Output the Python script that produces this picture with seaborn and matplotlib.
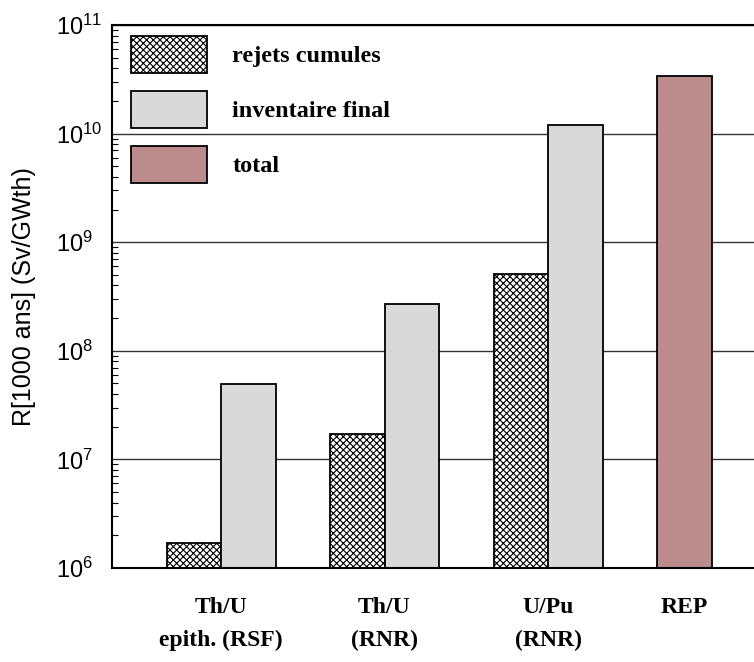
import numpy as np
import pandas as pd
import matplotlib
matplotlib.use("Agg")
import matplotlib.pyplot as plt
import seaborn as sns

# Values (Sv/GWth, log scale)
groups = ["Th/U\nepith. (RSF)", "Th/U\n(RNR)", "U/Pu\n(RNR)"]
rejets = [1.7e6, 1.7e7, 5.1e8]
inventaire = [4.9e7, 2.7e8, 1.2e10]
rep_label = "REP"
rep_total = [3.4e10]
series = ["rejets cumules", "inventaire final", "total"]
colors = ["white", "#d9d9d9", "#bc8c8c"]
decades = [1e6, 1e7, 1e8, 1e9, 1e10, 1e11]
decade_labels = [r"$\mathregular{10^{%d}}$" % k for k in range(6, 12)]

# Build a long table: each bar takes one slot, groups separated by an empty slot
rows = []
for g in range(len(groups)):
    rows.append({"pos": 3 * g + 1.5, "val": rejets[g], "serie": series[0]})
    rows.append({"pos": 3 * g + 2.5, "val": inventaire[g], "serie": series[1]})
rows.append({"pos": 3 * len(groups) + 1.5, "val": rep_total[0], "serie": series[2]})
df = pd.DataFrame(rows)

sns.set_style("white")
plt.rcParams["font.family"] = ["Liberation Sans", "DejaVu Sans"]
plt.rcParams["text.color"] = "black"
plt.rcParams["axes.labelcolor"] = "black"
plt.rcParams["xtick.color"] = "black"
plt.rcParams["ytick.color"] = "black"
plt.rcParams["hatch.linewidth"] = 0.8

fig = plt.figure(figsize=(7.54, 6.62), dpi=100)
ax = fig.add_axes([112 / 754, 94 / 662, 642 / 754, 543 / 662])
ax.set_yscale("log")

sns.barplot(data=df, x="pos", y="val", hue="serie", hue_order=series,
            palette=dict(zip(series, colors)), native_scale=True, dodge=False,
            width=1, saturation=1, edgecolor="black", linewidth=1.3,
            legend=False, ax=ax)

# cross hatch for the cumulated releases
for bar in ax.containers[0]:
    bar.set_hatch("xxxxx")

ax.set_ylim(1e6, 1e11)
ax.set_xlim(0, 642 / 54.5)

# x labels between the two bars of each group, REP under its bar
tick_pos = [3 * g + 2 for g in range(len(groups))] + [3 * len(groups) + 1.5]
ax.set_xticks(tick_pos)
ax.set_xticklabels(groups + [rep_label], fontfamily="Liberation Serif",
                   fontweight="bold", fontsize=17, linespacing=1.75)
ax.tick_params(axis="x", length=0, pad=21)
ax.set_xlabel("")

# y tick labels left aligned like the original
ax.set_yticks(decades)
ax.set_yticklabels(decade_labels, ha="left", fontsize=17)
ax.tick_params(axis="y", which="major", direction="in", length=6, pad=40, width=1)
ax.tick_params(axis="y", which="minor", direction="in", length=4, width=0.8, left=True)
ax.set_ylabel("R[1000 ans] (Sv/GWth)", fontsize=18)
ax.yaxis.set_label_coords(-0.119, 0.5)

ax.yaxis.grid(True, which="major", color="#333333", linewidth=1)
ax.xaxis.grid(False)
ax.set_axisbelow(True)

for side in ["left", "top", "bottom"]:
    ax.spines[side].set_visible(True)
    ax.spines[side].set_color("black")
    ax.spines[side].set_linewidth(1.5)
ax.spines["right"].set_visible(False)

ax.legend(ax.containers, series, loc="upper left",
          bbox_to_anchor=(19 / 642, 1 - 11 / 543), frameon=False,
          borderpad=0, borderaxespad=0, handlelength=3.13, handleheight=1.97,
          labelspacing=0.74, handletextpad=1.03,
          prop={"family": "Liberation Serif", "weight": "bold", "size": 17.5})

fig.savefig("out.png", dpi=100)
